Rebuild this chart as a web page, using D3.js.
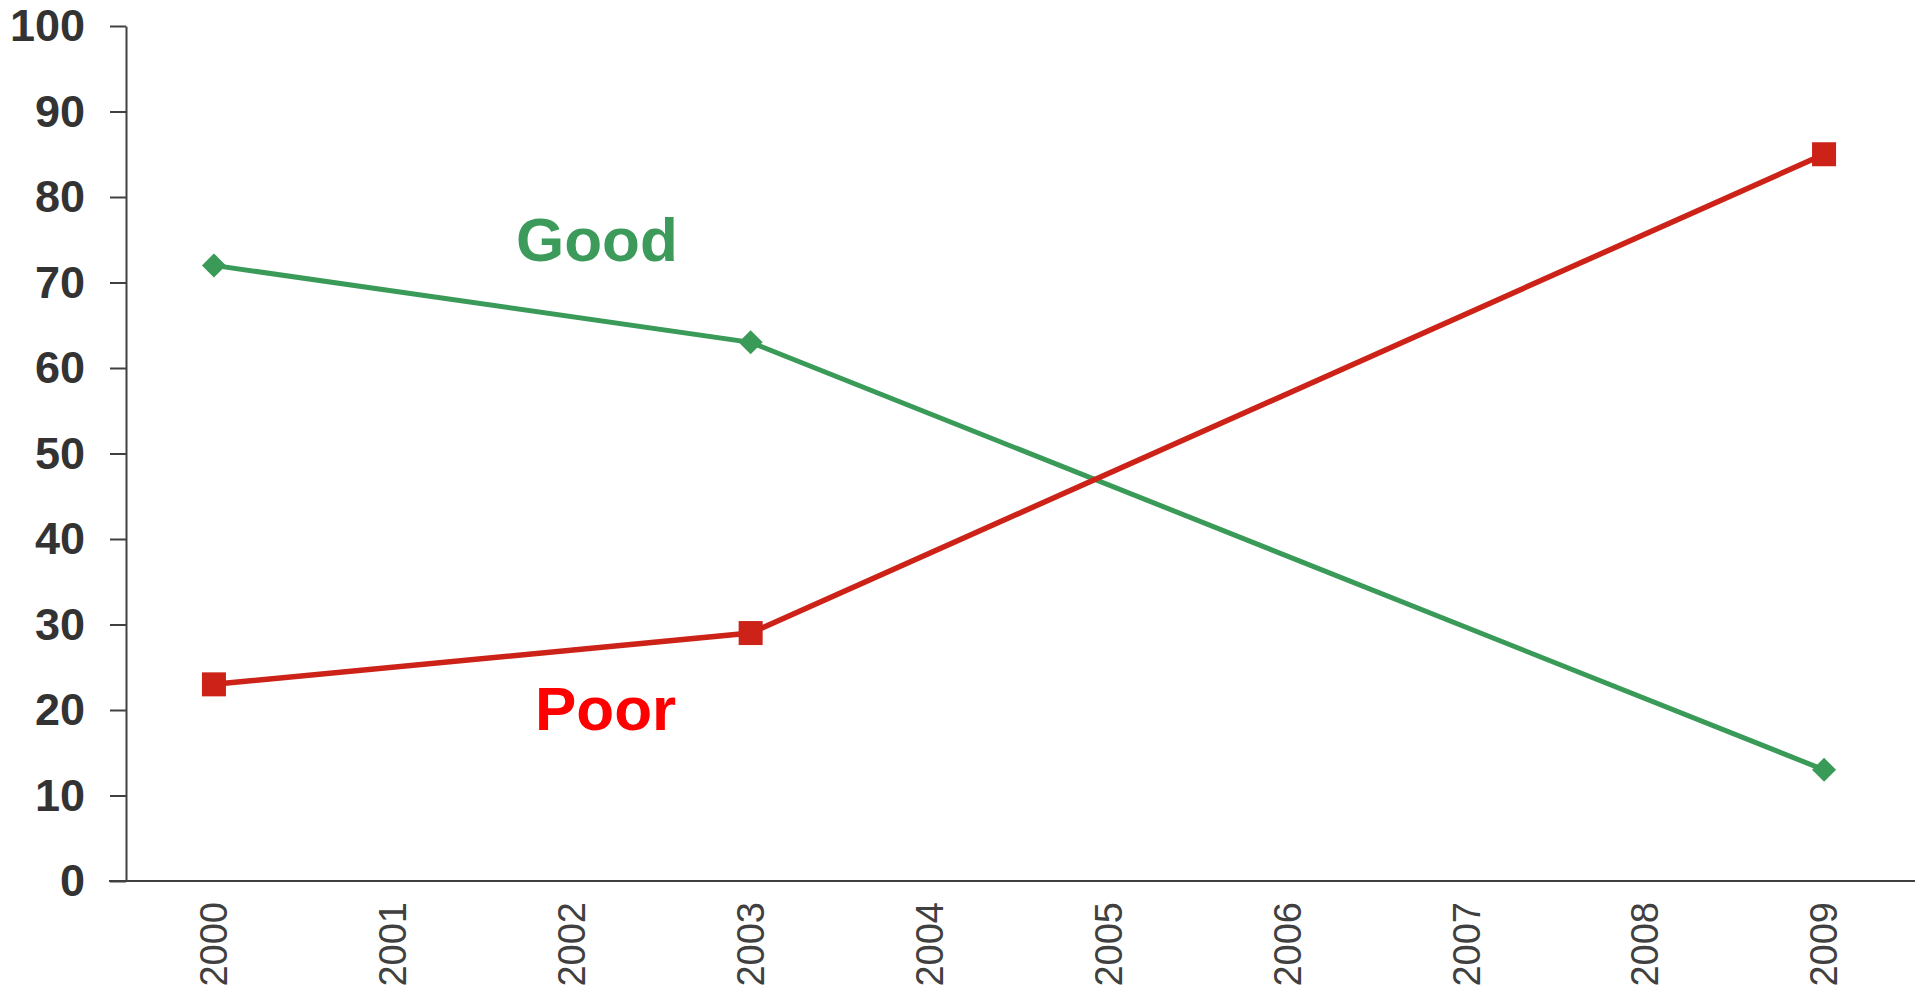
<!DOCTYPE html>
<html>
<head>
<meta charset="utf-8">
<script src="https://cdn.jsdelivr.net/npm/d3@7"></script>
<style>
  html, body { margin: 0; padding: 0; background: #fff; }
  svg { display: block; font-family: "Liberation Sans", Arial, sans-serif; }
</style>
</head>
<body>
<svg id="chart" width="1923" height="988"></svg>
<script>
const years = ["2000","2001","2002","2003","2004","2005","2006","2007","2008","2009"];
const goodYears = ["2000","2003","2009"];
const goodValues = [72, 63, 13];
const poorYears = ["2000","2003","2009"];
const poorValues = [23, 29, 85];
const yTicks = [0,10,20,30,40,50,60,70,80,90,100];

const svg = d3.select("#chart");
const margin = {left: 126, right: 8, top: 26, bottom: 107};
const W = 1923, H = 988;

const x = d3.scaleBand().domain(years).range([margin.left, W - margin.right]).padding(0);
const y = d3.scaleLinear().domain([0, 100]).range([H - margin.bottom, margin.top]);
const cx = d => x(d) + x.bandwidth() / 2 - 1.5;

const axisColor = "#404040";

// Y axis
const yAxis = svg.append("g")
  .attr("transform", `translate(${margin.left},0)`)
  .call(d3.axisLeft(y).tickValues(yTicks).tickSize(16).tickPadding(25).tickSizeOuter(0));
yAxis.select(".domain").attr("stroke", axisColor).attr("stroke-width", 2);
yAxis.selectAll(".tick line").attr("stroke", axisColor).attr("stroke-width", 2);
yAxis.selectAll(".tick text")
  .attr("fill", "#333")
  .attr("font-size", 45)
  .attr("font-weight", "bold")
  .attr("font-family", "'Liberation Sans', Arial, sans-serif")
  .attr("dy", "0.33em");

// X axis line
const xAxis = svg.append("g")
  .attr("transform", `translate(0,${y(0)})`)
  .call(d3.axisBottom(x).tickSize(0).tickSizeOuter(0));
xAxis.select(".domain").attr("stroke", axisColor).attr("stroke-width", 2)
  .attr("d", `M${margin.left - 17},0H${W - margin.right}`);
xAxis.selectAll(".tick text")
  .attr("fill", "#404040")
  .attr("font-size", 38)
  .attr("font-family", "'Liberation Sans', Arial, sans-serif")
  .attr("text-anchor", "end")
  .attr("transform", "rotate(-90)")
  .attr("x", -21)
  .attr("y", -1.5)
  .attr("dy", "0.35em");

// Lines
const goodData = goodYears.map((d, i) => ({year: d, value: goodValues[i]}));
const poorData = poorYears.map((d, i) => ({year: d, value: poorValues[i]}));
const line = d3.line().x(d => cx(d.year)).y(d => y(d.value));

const green = "#3a9a58";
const red = "#cc2218";

svg.append("path").datum(goodData)
  .attr("d", line).attr("fill", "none").attr("stroke", green).attr("stroke-width", 5);
svg.append("path").datum(poorData)
  .attr("d", line).attr("fill", "none").attr("stroke", red).attr("stroke-width", 5.5);

// Markers
svg.selectAll(".good-m").data(goodData).enter().append("rect")
  .attr("x", -8.5).attr("y", -8.5).attr("width", 17).attr("height", 17)
  .attr("fill", green)
  .attr("transform", d => `translate(${cx(d.year)},${y(d.value)}) rotate(45)`);
svg.selectAll(".poor-m").data(poorData).enter().append("rect")
  .attr("x", d => cx(d.year) - 12).attr("y", d => y(d.value) - 12)
  .attr("width", 24).attr("height", 24)
  .attr("fill", red);

// Annotations
svg.append("text").attr("x", 516).attr("y", 261)
  .attr("font-size", 62).attr("font-weight", "bold").attr("fill", "#3c9a5a")
  .text("Good");
svg.append("text").attr("x", 535).attr("y", 730)
  .attr("font-size", 62).attr("font-weight", "bold").attr("fill", "#ff0000")
  .text("Poor");
</script>
</body>
</html>
